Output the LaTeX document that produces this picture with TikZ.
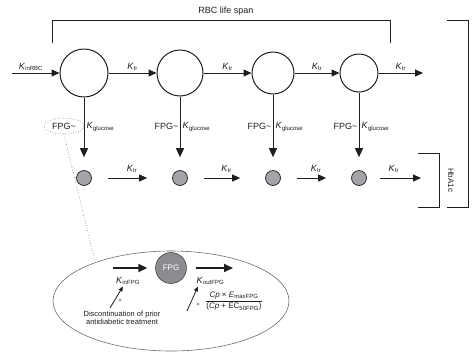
\documentclass[tikz,border=0pt]{standalone}
\usepackage{fontspec}
\setmainfont{Liberation Sans}
\setsansfont{Liberation Sans}
\usepackage{amsmath}
\usetikzlibrary{arrows.meta,shapes.geometric}
\definecolor{ink}{HTML}{1E1E1E}
\definecolor{cellgray}{HTML}{A4A4A8}
\definecolor{fpggray}{HTML}{8C8C90}
\definecolor{loopgray}{HTML}{6E6E6E}
\newcommand{\Krate}[1]{\textit{K}\textsubscript{#1}}
\newcommand{\fs}[1]{\fontsize{#1}{#1}\selectfont}

\begin{document}
\begin{tikzpicture}[x=1pt,y=-1pt,font=\sffamily\fs{9},text=ink,
  >={Triangle[length=8pt,width=7pt]},
  flow/.style={->,draw=ink,line width=1pt},
  bold flow/.style={-{Triangle[length=9pt,width=8pt]},draw=ink,line width=2pt},
  hint/.style={-{Triangle[length=5pt,width=4pt]},draw=ink,line width=0.8pt},
  bigcell/.style={circle,draw=ink,line width=1pt,inner sep=0pt},
  hbcell/.style={circle,draw=ink,fill=cellgray,line width=0.7pt,
    minimum size=15pt,inner sep=0pt},
  bracket/.style={draw=ink,line width=1pt},
  rate/.style={font=\fs{9},inner sep=1.5pt}]
  \useasboundingbox (0,0) rectangle (473,354);

  % red cells and glycated cells
  \foreach \i/\x/\d in {1/84/48,2/180/46,3/273/42,4/359/38}{
    \node[bigcell,minimum size=\d pt] (c\i) at (\x,73) {};
    \node[hbcell] (h\i) at (\x,178) {};
  }
  \coordinate (rbcin) at (12,73);
  \coordinate (rbcout) at (423,73);
  \coordinate (hbend) at (421,178);

  \draw[flow] (rbcin) -- (c1) node[pos=0.4,above,rate] {\Krate{inRBC}};
  \foreach \i/\j in {1/2,2/3,3/4}{
    \draw[flow] (c\i) -- (c\j) node[midway,above,rate] {\Krate{tr}};
    \draw[flow,shorten <=16pt,shorten >=25pt] (h\i) -- (h\j)
      node[midway,above=3pt,rate] {\Krate{tr}};
  }
  \draw[flow] (c4) -- (rbcout) node[midway,above,rate] {\Krate{tr}};
  \draw[flow,shorten <=13pt] (h4) -- (hbend)
    node[midway,above=3pt,rate] {\Krate{tr}};

  % glycation
  \foreach \i/\x in {1/84,2/180,3/273,4/359}{
    \draw[flow,-{Triangle[length=9pt,width=8pt]},shorten >=13pt] (c\i) -- (h\i);
    \node[right,rate] (kg\i) at (\x+1,127) {\Krate{glucose}};
  }
  \node[ellipse,draw=loopgray,dotted,line width=0.6pt,minimum width=40pt,
    minimum height=16pt,inner sep=0pt] (fpg1) at (64,126) {FPG\textasciitilde};
  \foreach \i/\x in {2/180,3/273,4/359}
    \node[left,inner sep=1.5pt] (fpg\i) at (\x,126) {FPG\textasciitilde};

  % brackets
  \draw[bracket] (52,43) |- (390,20) -- (390,43);
  \node (span) at (226,11) {RBC life span};
  \draw[bracket] (447,20) -| (468,207) -- (447,207);
  \draw[bracket] (418,153) -| (439,207) -- (418,207);
  \node[rotate=-90,font=\fs{8}] (hba) at (451,180) {HbA1c};

  % FPG sub-model
  \node[ellipse,draw=loopgray,line width=0.6pt,minimum width=236pt,
    minimum height=100pt] (zoom) at (171,301) {};
  \draw[loopgray,dotted,line width=0.6pt] (fpg1.south) -- (zoom.153);
  \node[circle,draw=ink,fill=fpggray,minimum size=31pt,inner sep=0pt,
    text=white,font=\fs{8}] (fpg) at (171,268) {FPG};
  \coordinate (infpg) at (113,268);
  \coordinate (outfpg) at (233,268);
  \draw[bold flow,shorten >=8pt] (infpg) -- (fpg);
  \draw[bold flow,shorten <=9pt] (fpg) -- (outfpg);
  \node[rate] (kin) at (128,281) {\Krate{inFPG}};
  \node[rate,anchor=west] (kout) at (195,281) {\Krate{outFPG}};
  \node[align=center,font=\fs{7.5}] (disc) at (122,318)
    {Discontinuation of prior\\antidiabetic treatment};
  \draw[hint] ([xshift=-12pt]disc.north) -- ([xshift=-5pt]kin.south);
  \node[font=\fs{6}] (plus1) at (120,301) {+};
  \node[font=\fs{8}] (emax) at (234,301)
    {$\dfrac{\text{\textit{Cp} × \textit{E}\textsubscript{maxFPG}}}
      {\text{(\textit{Cp} + EC\textsubscript{50FPG})}}$};
  \draw[hint] (187,311) -- ([xshift=3pt]kout.south west);
  \node[font=\fs{6}] (plus2) at (198,305) {+};
\end{tikzpicture}
\end{document}
